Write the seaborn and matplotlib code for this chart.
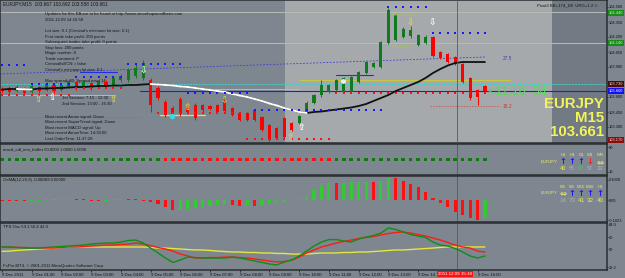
import numpy as np
import pandas as pd
import matplotlib
matplotlib.use("Agg")
import matplotlib.pyplot as plt
import seaborn as sns

# ---------------- data (quarter-hour bars, 9 Dec 2011 00:00 .. 16:15) ----------------
symbol = "EURJPY"
timeframe = "M15"
header_quote = "EURJPY,M15  103.667 103.692 103.588 103.661"
last_price = 103.661

opens = [103.68,
         103.69, 103.66, 103.69, 103.65, 103.70, 103.67, 103.72, 103.67, 103.70, 103.75,
         103.69, 103.74, 103.70, 103.75, 103.72, 103.77, 103.77, 103.81, 103.79, 103.77,
         103.69, 103.55, 103.49, 103.58, 103.49, 103.52, 103.52, 103.51, 103.52, 103.58,
         103.49, 103.44, 103.44, 103.47, 103.40, 103.32, 103.29, 103.39, 103.34, 103.34,
         103.45, 103.54, 103.62, 103.65, 103.67, 103.65, 103.65, 103.75, 103.84, 103.90,
         103.90, 104.14, 104.17, 104.20, 104.21, 104.12, 104.14, 104.20, 104.05, 104.03,
         104.00, 103.93, 103.79, 103.67, 103.71]
closes = [103.66,
          103.65, 103.70, 103.64, 103.71, 103.66, 103.73, 103.66, 103.72, 103.76, 103.69,
          103.75, 103.69, 103.76, 103.71, 103.79, 103.81, 103.87, 103.89, 103.94, 103.52,
          103.59, 103.42, 103.41, 103.43, 103.45, 103.39, 103.47, 103.48, 103.45, 103.46,
          103.42, 103.37, 103.37, 103.37, 103.27, 103.17, 103.19, 103.20, 103.27, 103.41,
          103.54, 103.62, 103.72, 103.72, 103.77, 103.79, 103.80, 103.85, 103.95, 103.94,
          104.15, 104.47, 104.42, 104.28, 104.27, 104.22, 104.20, 104.01, 103.99, 103.95,
          103.93, 103.75, 103.59, 103.60, 103.661]
highs = [103.70,
         103.71, 103.72, 103.70, 103.73, 103.71, 103.75, 103.73, 103.74, 103.78, 103.76,
         103.77, 103.75, 103.78, 103.77, 103.81, 103.83, 103.89, 103.93, 103.97, 103.79,
         103.71, 103.57, 103.51, 103.60, 103.53, 103.54, 103.53, 103.52, 103.53, 103.60,
         103.50, 103.45, 103.45, 103.48, 103.41, 103.33, 103.30, 103.40, 103.35, 103.42,
         103.56, 103.63, 103.77, 103.73, 103.78, 103.80, 103.81, 103.86, 103.96, 103.95,
         104.16, 104.49, 104.43, 104.30, 104.31, 104.23, 104.22, 104.21, 104.06, 104.04,
         104.01, 103.94, 103.80, 103.68, 103.72]
lows = [103.64,
        103.63, 103.65, 103.62, 103.64, 103.64, 103.66, 103.64, 103.66, 103.69, 103.67,
        103.68, 103.67, 103.69, 103.69, 103.71, 103.75, 103.75, 103.79, 103.77, 103.45,
        103.57, 103.40, 103.39, 103.41, 103.43, 103.37, 103.45, 103.47, 103.44, 103.44,
        103.41, 103.36, 103.36, 103.36, 103.26, 103.16, 103.18, 103.19, 103.26, 103.33,
        103.44, 103.53, 103.60, 103.64, 103.66, 103.64, 103.64, 103.74, 103.83, 103.89,
        103.89, 104.13, 104.16, 104.19, 104.19, 104.11, 104.13, 104.00, 103.98, 103.94,
        103.92, 103.74, 103.57, 103.52, 103.64]

moving_avg = [103.675,
              103.680, 103.680, 103.677, 103.675, 103.685, 103.685, 103.690, 103.690, 103.695, 103.700,
              103.700, 103.705, 103.710, 103.710, 103.715, 103.715, 103.720, 103.720, 103.725, 103.730,
              103.725, 103.720, 103.715, 103.705, 103.700, 103.690, 103.680, 103.670, 103.660, 103.650,
              103.630, 103.615, 103.600, 103.580, 103.560, 103.535, 103.515, 103.490, 103.470, 103.450,
              103.440, 103.450, 103.455, 103.465, 103.475, 103.485, 103.495, 103.510, 103.530, 103.560,
              103.590, 103.620, 103.660, 103.690, 103.720, 103.750, 103.790, 103.840, 103.880, 103.915,
              103.940, 103.950, 103.950, 103.950, 103.950]

nan = float("nan")
stop_dots_blue = [103.92, 103.92, 103.92, 103.92,
                  103.73, 103.73, 103.73, 103.73, 103.73, 103.73,
                  103.80, 103.80, 103.80, 103.80, 103.80, 103.80, 103.80,
                  103.93, 103.93, 103.93, 103.93, 103.93, 103.93, 103.93, 103.93,
                  103.64, 103.64, 103.64, 103.64, 103.64, 103.64, 103.64, 103.64, 103.64,
                  103.47, 103.47, 103.47, 103.47, 103.47, 103.47, 103.47, 103.47, 103.47,
                  103.47, 103.47, 103.47, 103.47, 103.47, 103.47, 103.47, 103.47, 103.47,
                  104.50, 104.50, 104.50, 104.50, 104.50, 104.50,
                  104.24, 104.24, 104.24, 104.24, 104.24, 104.24, 104.24, 104.24]
stop_dots_red = [103.62,
                 103.62, 103.62, 103.62, 103.62, 103.62, 103.62, 103.62, 103.62, 103.62,
                 103.69, 103.69, 103.69, 103.69, 103.69, 103.69, 103.69,
                 nan, nan, nan, nan,
                 103.44, 103.44, 103.44, 103.44, 103.44, 103.44, 103.44, 103.44, 103.44, 103.44, 103.44, 103.44,
                 103.18, 103.18, 103.18, 103.18, 103.18, 103.18, 103.18, 103.18, 103.18, 103.18, 103.18, 103.18,
                 103.64, 103.64, 103.64, 103.64, 103.64, 103.64, 103.64, 103.64, 103.64, 103.64, 103.64,
                 103.64, 103.64, 103.64, 103.64, 103.64, 103.64, 103.64, 103.64, 103.64, 103.64]

level_cyan = 103.73
level_bid = 103.66
level_grey = [104.45, 104.14]
trend_line = [103.83, 104.00]

# macd_cdl_mm_buffer state (1 = green, 0 = red)
buffer_state = [1, 1, 1, 1, 1, 1, 1, 1, 1, 1, 1, 1, 1, 1, 1, 1, 1, 1, 1, 1, 1, 1,
                0, 0, 0, 0, 0, 0, 0, 0, 0, 0, 0, 0, 0, 0, 0, 0, 0, 0, 0, 0, 0, 0, 0,
                1, 1, 1, 1, 1, 1, 1, 1, 1, 1, 1, 1, 1, 1, 1, 1, 1, 1, 1, 1, 1]

osma = [-0.004,
        -0.005, -0.006, -0.007, -0.005, -0.004, 0.004, 0.005, 0.006, 0.007, 0.006,
        0.005, -0.005, -0.006, -0.005, 0.005, 0.006, 0.005, 0.004, -0.005, -0.010,
        -0.022, -0.035, -0.050, -0.048, -0.044, -0.040, -0.036, -0.031, -0.027, -0.022,
        -0.025, -0.028, -0.024, -0.030, -0.026, -0.020, -0.014, -0.008, -0.002, 0.006,
        0.015, 0.050, 0.075, 0.085, 0.083, 0.085, 0.088, 0.090, 0.092, 0.090,
        0.097, 0.110, 0.108, 0.095, 0.080, 0.065, 0.040, 0.010, -0.015, -0.035,
        -0.060, -0.075, -0.090, -0.100, -0.090]

tps_green = [51.7,
             51.7, 51.3, 50.8, 50.8, 50.8, 51.3, 51.7, 52.1, 52.5, 52.9,
             53.3, 54.2, 54.6, 55.0, 55.0, 55.8, 57.1, 57.5, 55.0, 50.8,
             46.7, 42.5, 38.8, 40.8, 43.3, 42.9, 42.5, 42.5, 42.5, 42.5,
             43.3, 42.5, 41.3, 40.0, 38.8, 37.5, 36.7, 39.2, 40.8, 44.2,
             48.3, 52.5, 55.8, 57.9, 57.9, 56.7, 55.8, 58.3, 60.0, 61.3,
             63.3, 67.5, 66.3, 64.2, 62.1, 60.8, 59.6, 55.8, 53.3, 52.5,
             50.4, 47.5, 44.2, 42.5, 44.2]
tps_red = [51.7,
           51.7, 51.3, 51.3, 50.8, 50.8, 50.8, 50.8, 51.3, 51.7, 51.7,
           52.1, 52.5, 52.9, 53.3, 53.3, 53.8, 54.2, 55.0, 54.2, 52.9,
           51.3, 50.0, 48.3, 45.8, 44.2, 42.5, 42.5, 42.9, 42.9, 43.3,
           43.3, 42.9, 42.5, 41.7, 40.8, 40.0, 39.2, 39.6, 40.8, 43.3,
           46.7, 49.2, 51.7, 53.3, 55.0, 56.3, 57.5, 58.8, 59.6, 60.4,
           61.7, 62.9, 63.8, 64.2, 63.3, 62.1, 60.8, 59.2, 57.5, 55.4,
           53.3, 51.7, 50.8, 48.3, 47.5]
tps_yellow = [48.0,
              48.3, 48.8, 49.2, 49.6, 50.0, 50.4, 50.8, 51.3, 51.7, 51.7,
              51.7, 51.7, 51.7, 51.7, 51.7, 51.7, 51.7, 51.7, 51.7, 51.3,
              50.8, 50.8, 50.4, 50.0, 49.6, 49.2, 49.2, 48.8, 48.3, 47.9,
              47.5, 47.5, 47.1, 47.1, 46.7, 46.7, 46.3, 46.3, 45.8, 45.8,
              45.8, 46.3, 46.7, 46.7, 46.7, 47.1, 47.1, 47.5, 47.5, 47.9,
              48.3, 48.8, 49.2, 49.2, 49.6, 50.0, 50.4, 50.8, 51.3, 51.7,
              51.7, 51.7, 51.7, 51.7, 51.7]

hour_labels = ["9 Dec 2011", "9 Dec 01:00", "9 Dec 02:00", "9 Dec 03:00", "9 Dec 04:00",
               "9 Dec 05:00", "9 Dec 06:00", "9 Dec 07:00", "9 Dec 08:00", "9 Dec 09:00",
               "9 Dec 10:00", "9 Dec 11:00", "9 Dec 12:00", "9 Dec 13:00", "9 Dec 14",
               "", "9 Dec 16:00"]
cursor_label = "2011.12.09 15:18"
cursor_quarter = 61.2

price_ticks = [103.30, 103.45, 103.60, 103.90, 104.05, 104.20, 104.35, 104.50]

info_lines = [
    (45, 14, "Updates for this EA are to be found at http://www.stevehopwoodforex.com"),
    (45, 20, "2011.12.09 14:16:58"),
    (45, 31, "Lot size: 0.1 (Criminal's minimum lot size: 0.1)"),
    (45, 37, "First trade take profit: 200 points"),
    (45, 42, "Subsequent trades take profit: 0 points"),
    (45, 48, "Stop loss: 200 points"),
    (45, 53, "Magic number: 0"),
    (45, 59, "Trade comment: P"),
    (45, 64, "CriminalIsECN = false"),
    (45, 70, "Criminal's minimum lot size: 0.1"),
    (45, 81, "Max spread: 40; Spread now: 14"),
    (62, 98, "1st Session: 7:15 - 12:30"),
    (62, 104, "2nd Session: 13:00 - 16:30"),
    (45, 117, "Most recent Arrow signal: Down"),
    (45, 122, "Most recent SuperTrend signal: Down"),
    (45, 128, "Most recent MACD signal: Up"),
    (45, 133, "Most recent ArrowTime: 14:30:00"),
    (45, 139, "Last OrderTime: 11:37:28"),
]

# ---------------- layout helpers ----------------
W, H = 625, 278
PXB = 7.43   # pixels per bar
X0 = 2.0
BG = "#7e8790"
FONT = "Liberation Sans"

def q_of(px):
    return (px - X0) / PXB

sns.set_style("dark")
plt.rcParams["font.family"] = [FONT, "DejaVu Sans"]

fig = plt.figure(figsize=(W / 100, H / 100), dpi=100)
fig.patch.set_facecolor(BG)

def add_ax(y0, y1):
    ax = fig.add_axes([0, 1 - y1 / H, 607 / W, (y1 - y0) / H])
    ax.set_facecolor(BG)
    ax.set_xlim(q_of(0), q_of(607))
    ax.grid(False)
    for s in ax.spines.values():
        s.set_color("#2a2d30")
        s.set_linewidth(1.1)
    ax.yaxis.tick_right()
    ax.tick_params(axis="y", labelsize=2.9, length=1.0, pad=0.5, colors="#111111", width=0.5)
    ax.tick_params(axis="x", bottom=False, labelbottom=False)
    return ax

def ftext(x, y, s, **kw):
    kw.setdefault("fontsize", 3.1)
    kw.setdefault("color", "#151515")
    kw.setdefault("va", "center")
    kw.setdefault("ha", "left")
    fig.text(x / W, 1 - y / H, s, **kw)

n = len(opens)
q = np.arange(n)
o = np.array(opens); c = np.array(closes); hi = np.array(highs); lo = np.array(lows)

# ---------------- main price panel ----------------
ax = add_ax(0, 143)
ax.set_ylim(103.14, 104.57)
ax.axvspan(q_of(285), q_of(552), color="#a6a9ac", lw=0, zorder=0)
ax.axvspan(q_of(552), q_of(607), color="#727a83", lw=0, zorder=0)
ax.set_yticks(price_ticks)
ax.set_yticklabels([f"{v:.3f}" for v in price_ticks])

for lv in level_grey:
    ax.axhline(lv, color="#b7bdb6", lw=0.7, zorder=1)
ax.axhline(level_cyan, color="#3fd0c8", lw=0.7, ls=(0, (2, 1)), zorder=2)
ax.plot([q_of(140), q_of(607)], [level_bid, level_bid], color="#1020ff", lw=0.8, zorder=2)
ax.plot([q_of(0), q_of(485)], trend_line, color="#3a3ad0", lw=0.6, ls=(0, (2, 2)), zorder=2)
ax.plot([q_of(0), q_of(140)], [103.40, 103.40], color="#c040c0", lw=0.5, ls=(0, (2, 2)), zorder=2)
ax.plot([q_of(430), q_of(500)], [103.51, 103.51], color="#d04040", lw=0.5, ls=(0, (2, 2)), zorder=2)
ax.plot([q_of(0), q_of(115)], [103.62, 103.62], color="#c8c840", lw=0.7, zorder=2)
ax.plot([q_of(207), q_of(300)], [103.68, 103.68], color="#c8c840", lw=0.7, zorder=2)
ax.plot([q_of(300), q_of(510)], [103.77, 103.77], color="#c8c840", lw=0.7, zorder=2)
ax.plot([q_of(160), q_of(205)], [103.42, 103.42], color="#e6e630", lw=0.9, zorder=2)
ax.plot([q_of(336), q_of(373)], [103.82, 103.82], color="#2030e0", lw=0.8, zorder=2)
ax.plot([q_of(80), q_of(117)], [103.85, 103.85], color="#2030e0", lw=0.8, zorder=2)

# candles
up = c >= o
col = np.where(up, "#107a22", "#ff0000")
ax.vlines(q, lo, hi, colors=col, lw=0.7, zorder=4)
body_lo = np.minimum(o, c)
body_h = np.maximum(np.abs(c - o), 0.01)
ax.bar(q, body_h, bottom=body_lo, width=0.42, color=col, lw=0, zorder=5)

# moving average: black when rising/flat, white when falling
ma_df = pd.DataFrame({"q": q, "ma": moving_avg})
sns.lineplot(data=ma_df, x="q", y="ma", color="#111111", lw=1.3, ax=ax, zorder=6)
ma = np.array(moving_avg)
for i in range(n - 1):
    if ma[i + 1] < ma[i]:
        ax.plot([q[i], q[i + 1]], [ma[i], ma[i + 1]], color="white", lw=1.4, zorder=7,
                solid_capstyle="round")

dots_df = pd.DataFrame({"q": q, "blue": stop_dots_blue, "red": stop_dots_red})
sns.scatterplot(data=dots_df, x="q", y="blue", color="#1818ff", marker="s", s=2.2,
                linewidth=0, ax=ax, zorder=8)
sns.scatterplot(data=dots_df, x="q", y="red", color="#ff1010", marker="s", s=2.2,
                linewidth=0, ax=ax, zorder=8)
ax.set_xlabel(""); ax.set_ylabel("")

ax.scatter([q_of(172)], [103.41], s=16, color="#30e0e0", zorder=9, lw=0)
ax.scatter([q_of(343)], [103.76], s=12, color="white", zorder=9, lw=0, alpha=0.9)
ax.axvline(cursor_quarter, color="#e02020", lw=0.6, zorder=9)

# price-axis colored boxes
for lv, fc, tc in [(104.44, "#1b8a1b", "#b0ffb0"), (104.14, "#1b8a1b", "#b0ffb0"),
                   (level_cyan, "#4a0c0c", "#dddddd"), (level_bid, "#1010ff", "#ffffff"),
                   (103.17, "#8a0c0c", "#dddddd")]:
    ax.annotate(f"{lv:.3f}", xy=(1.0, lv), xycoords=("axes fraction", "data"),
                xytext=(1.0, 0), textcoords="offset points", fontsize=2.9, color=tc,
                va="center", ha="left", annotation_clip=False,
                bbox=dict(boxstyle="square,pad=0.2", fc=fc, ec="none"), zorder=10)

# texts in main panel
ftext(3, 4, header_quote, fontsize=3.4)
for x, y, s in info_lines:
    ftext(x, y, s)
ftext(537, 5, "Pivot3 BB+174_D0  URG+1 2 \u00a9", fontsize=3.1)
ftext(392, 15, "Resistance 2", fontsize=3.2, color="#a8c840")
ftext(392, 47, "Resistance", fontsize=3.2, color="#a8c840")
ftext(503, 59, "27.5", fontsize=3.4, color="#4040b0")
ftext(503, 107, "18.2", fontsize=3.4, color="#d03030")
ftext(488, 92, "<11:16  54", fontsize=9, color="#5ad85a")
ftext(604, 104, symbol, fontsize=10.8, color="#f2f25a", ha="right", weight="bold")
ftext(604, 118, timeframe, fontsize=10.8, color="#f2f25a", ha="right", weight="bold")
ftext(604, 132, f"{last_price:.3f}", fontsize=10.8, color="#f2f25a", ha="right", weight="bold")
for x, y, s, cc in [(38, 100, "\u21e7", "#d8d840"), (113, 100, "\u21e7", "#d8d840"),
                    (187, 107, "\u21e7", "#d8d840"), (224, 100, "\u21e9", "#d8d840"),
                    (290, 138, "\u21e7", "#d8d840"), (410, 22, "\u21e9", "#d8d840"),
                    (52, 98, "\u21e7", "white"), (143, 70, "\u21e9", "white"),
                    (301, 127, "\u21e7", "white"), (432, 22, "\u21e9", "white")]:
    ftext(x, y, s, fontsize=6.5, color=cc, ha="center", family="DejaVu Sans", weight="bold")

# ---------------- macd_cdl_mm_buffer panel ----------------
ax2 = add_ax(144, 175)
ax2.set_ylim(0, 1)
ax2.set_yticks([0.9, 0.1]); ax2.set_yticklabels(["90", "10"])
buf_df = pd.DataFrame({"q": q, "y": 0.5, "state": buffer_state})
sns.scatterplot(data=buf_df, x="q", y="y", hue="state", palette={1: "#0c7a10", 0: "#ff1010"},
                marker="s", s=7, linewidth=0, legend=False, ax=ax2)
ax2.set_xlabel(""); ax2.set_ylabel("")
ax2.axvline(cursor_quarter, color="#e02020", lw=0.6)
ftext(3, 149, "macd_cdl_mm_buffer 50.0000 1.0000 1.0000")
for x, s in [(563, "H1"), (572, "H4"), (581, "D1"), (590, "W1"), (600, "MN")]:
    ftext(x, 155, s, color="#e8e860", ha="center")
ftext(541, 162, "EURJPY", color="#e8e860")
for x, s, cc in [(563, "\u2191", "#1a1aff"), (572, "\u2191", "#1a1aff"), (581, "\u2191", "#1a1aff"),
                 (590, "\u2193", "#ff2020"), (600, "\u21d4", "#e8e860")]:
    ftext(x, 162, s, color=cc, ha="center", fontsize=6, weight="bold", family="DejaVu Sans")
for x, s, cc in [(563, "40", "#e8e860"), (572, "55", "#b0b0b0"), (581, "22", "#40d040"),
                 (590, "57", "#b0b0b0"), (600, "33", "#b0b0b0")]:
    ftext(x, 169, s, color=cc, ha="center", fontsize=4)

# ---------------- OsMA panel ----------------
ax3 = add_ax(176, 222)
ax3.set_ylim(-0.11, 0.12)
ax3.set_yticks([0.1008, 0.0, -0.1023]); ax3.set_yticklabels(["0.1008", "0.00", "-0.1023"])
os_arr = np.array(osma)
rising = np.r_[False, np.diff(os_arr) > 0]
ax3.bar(q, os_arr, width=0.42, color=np.where(rising, "#34c934", "#ff1010"), lw=0)
ax3.axvline(cursor_quarter, color="#e02020", lw=0.6)
ftext(3, 180, "OsMA(12,26,9) -0.08889 0.00000")
for x, s in [(563, "M1"), (572, "M5"), (581, "M15"), (590, "M30"), (600, "H1")]:
    ftext(x, 187, s, color="#e8e860", ha="center")
ftext(541, 193, "EURJPY", color="#e8e860")
for x, s, cc in [(563, "\u21d4", "#e8e860"), (572, "\u2191", "#1a1aff"), (581, "\u2191", "#1a1aff"),
                 (590, "\u2191", "#1a1aff"), (600, "\u2191", "#1a1aff")]:
    ftext(x, 193, s, color=cc, ha="center", fontsize=6, weight="bold", family="DejaVu Sans")
for x, s, cc in [(563, "14", "#b0b0b0"), (572, "73", "#b0b0b0"), (581, "41", "#e8e860"),
                 (590, "32", "#e8e860"), (600, "40", "#e8e860")]:
    ftext(x, 200, s, color=cc, ha="center", fontsize=4.5)

# ---------------- TPS oscillator panel ----------------
ax4 = add_ax(223, 270)
ax4.set_ylim(32.5, 71.7)
ax4.set_yticks([70.4, 60, 50, 35.0]); ax4.set_yticklabels(["84.0", "60", "50", "23.2"])
tps_df = pd.DataFrame({"q": q, "yellow": tps_yellow, "red": tps_red, "green": tps_green})
sns.lineplot(data=tps_df, x="q", y="yellow", color="#e6e63c", lw=1.0, ax=ax4)
sns.lineplot(data=tps_df, x="q", y="red", color="#ff1a1a", lw=1.0, ax=ax4)
sns.lineplot(data=tps_df, x="q", y="green", color="#0e8e14", lw=1.0, ax=ax4)
ax4.set_ylabel("")
ax4.axvline(cursor_quarter, color="#e02020", lw=0.6)
ftext(3, 227, "TPS Osc 54.1 56.4 42.0")
ftext(3, 266, "FxPro MT4, \u00a9 2001-2011 MetaQuotes Software Corp.")

hours_q = np.arange(len(hour_labels)) * 4
ax4.set_xticks(hours_q)
ax4.set_xticklabels(hour_labels, ha="left")
ax4.tick_params(axis="x", bottom=True, labelbottom=True, labelsize=3.1, length=1.5,
                pad=0.6, colors="#111111", width=0.5)
ax4.set_xlabel("")
ftext(438, 274, cursor_label, color="white", fontsize=3.2,
      bbox=dict(boxstyle="square,pad=0.25", fc="#ff1010", ec="none"))

fig.savefig("out.png", dpi=100, facecolor=BG)
